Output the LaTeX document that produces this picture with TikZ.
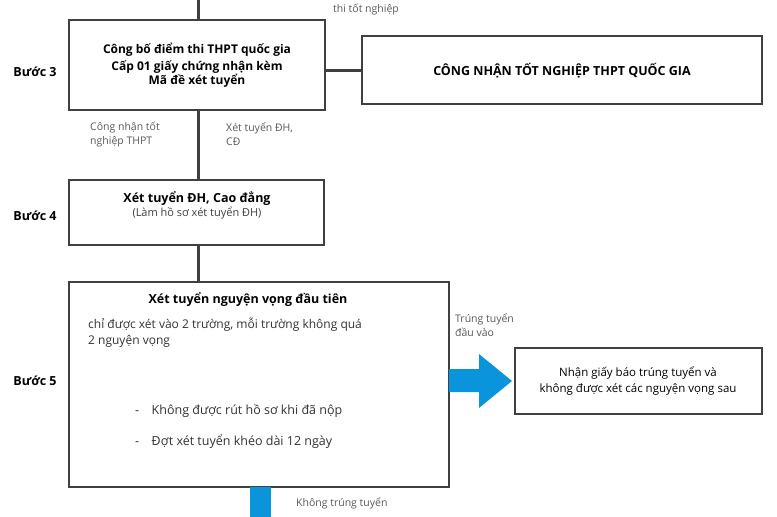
\documentclass[tikz,border=0pt]{standalone}
\usepackage{fontspec}
\setmainfont{Open Sans}
\usetikzlibrary{positioning}

\tikzset{
  stepbox/.style={draw=black!75, line width=1.2pt, fill=white, inner sep=0pt},
  steplabel/.style={font=\fontsize{12.5}{14}\selectfont\bfseries},
  boldtext/.style={font=\fontsize{12.5}{17}\selectfont\bfseries, align=center},
  bodytext/.style={font=\fontsize{12.5}{16}\selectfont, text=black!80, align=left, anchor=north west, inner sep=0pt},
  note/.style={font=\fontsize{10.5}{14}\selectfont, text=black!65, align=left, anchor=north west, inner sep=0pt},
  link/.style={line width=3pt, black!75},
  blue/.style={fill=cyan!80!blue, draw=none}
}

\begin{document}
\begin{tikzpicture}[x=1pt,y=-1pt]
  \useasboundingbox (0,0) rectangle (777,517);
  % boxes
  \draw[stepbox] (69,20) rectangle (325,110);
  \node[boldtext, font=\fontsize{12}{17}\selectfont\bfseries] (b3) at (197,65)
    {Công bố điểm thi THPT quốc gia\\Cấp 01 giấy chứng nhận kèm\\[-3pt]Mã đề xét tuyển};
  \draw[stepbox] (362,36) rectangle (762,104);
  \node[boldtext] (cn) at (562,71) {CÔNG NHẬN TỐT NGHIỆP THPT QUỐC GIA};
  \draw[stepbox] (69,180) rectangle (324,245);
  \node[boldtext] (b4) at (197,205)
    {Xét tuyển ĐH, Cao đẳng\\[-3pt]{\mdseries\fontsize{11}{14}\selectfont\color{black!75}(Làm hồ sơ xét tuyển ĐH)}};
  \draw[stepbox] (69,282) rectangle (449,487);
  \node[boldtext] (b5) at (248,300) {Xét tuyển nguyện vọng đầu tiên};
  \node[bodytext, font=\fontsize{12}{16}\selectfont] (b5a) at (88,318)
    {chỉ được xét vào 2 trường, mỗi trường không quá\\2 nguyện vọng};
  \node[bodytext] (b5b) at (135,404) {-\quad Không được rút hồ sơ khi đã nộp};
  \node[bodytext] (b5c) at (135,434) {-\quad Đợt xét tuyển khéo dài 12 ngày};
  \draw[stepbox] (515,348) rectangle (762,414);
  \node[font=\fontsize{11.5}{16}\selectfont, align=center] (ok) at (638,381)
    {Nhận giấy báo trúng tuyển và\\không được xét các nguyện vọng sau};
  % connectors
  \coordinate (top) at (198,0);
  \draw[link] (top) -- (198,20);
  \draw[link] (198,110) -- (198,180);
  \draw[link] (198,245) -- (198,282);
  \draw[link] (325,70) -- (362,70);
  \fill[blue] (449,369) -- (479,369) -- (479,354) -- (512,381) -- (479,408)
    -- (479,392) -- (449,392) -- cycle;
  \fill[blue] (250,487) rectangle (271,517);
  % step labels
  \node[steplabel] (s3) at (35,72) {Bước 3};
  \node[steplabel] (s4) at (35,216) {Bước 4};
  \node[steplabel] (s5) at (35,381) {Bước 5};
  % notes
  \node[note] (n0) at (333,4) {thi tốt nghiệp};
  \node[note] (n1) at (90,122) {Công nhận tốt\\nghiệp THPT};
  \node[note] (n2) at (226,122) {Xét tuyển ĐH,\\CĐ};
  \node[note] (n3) at (455,313) {Trúng tuyển\\đầu vào};
  \node[note] (n4) at (296,497) {Không trúng tuyển};
\end{tikzpicture}
\end{document}
